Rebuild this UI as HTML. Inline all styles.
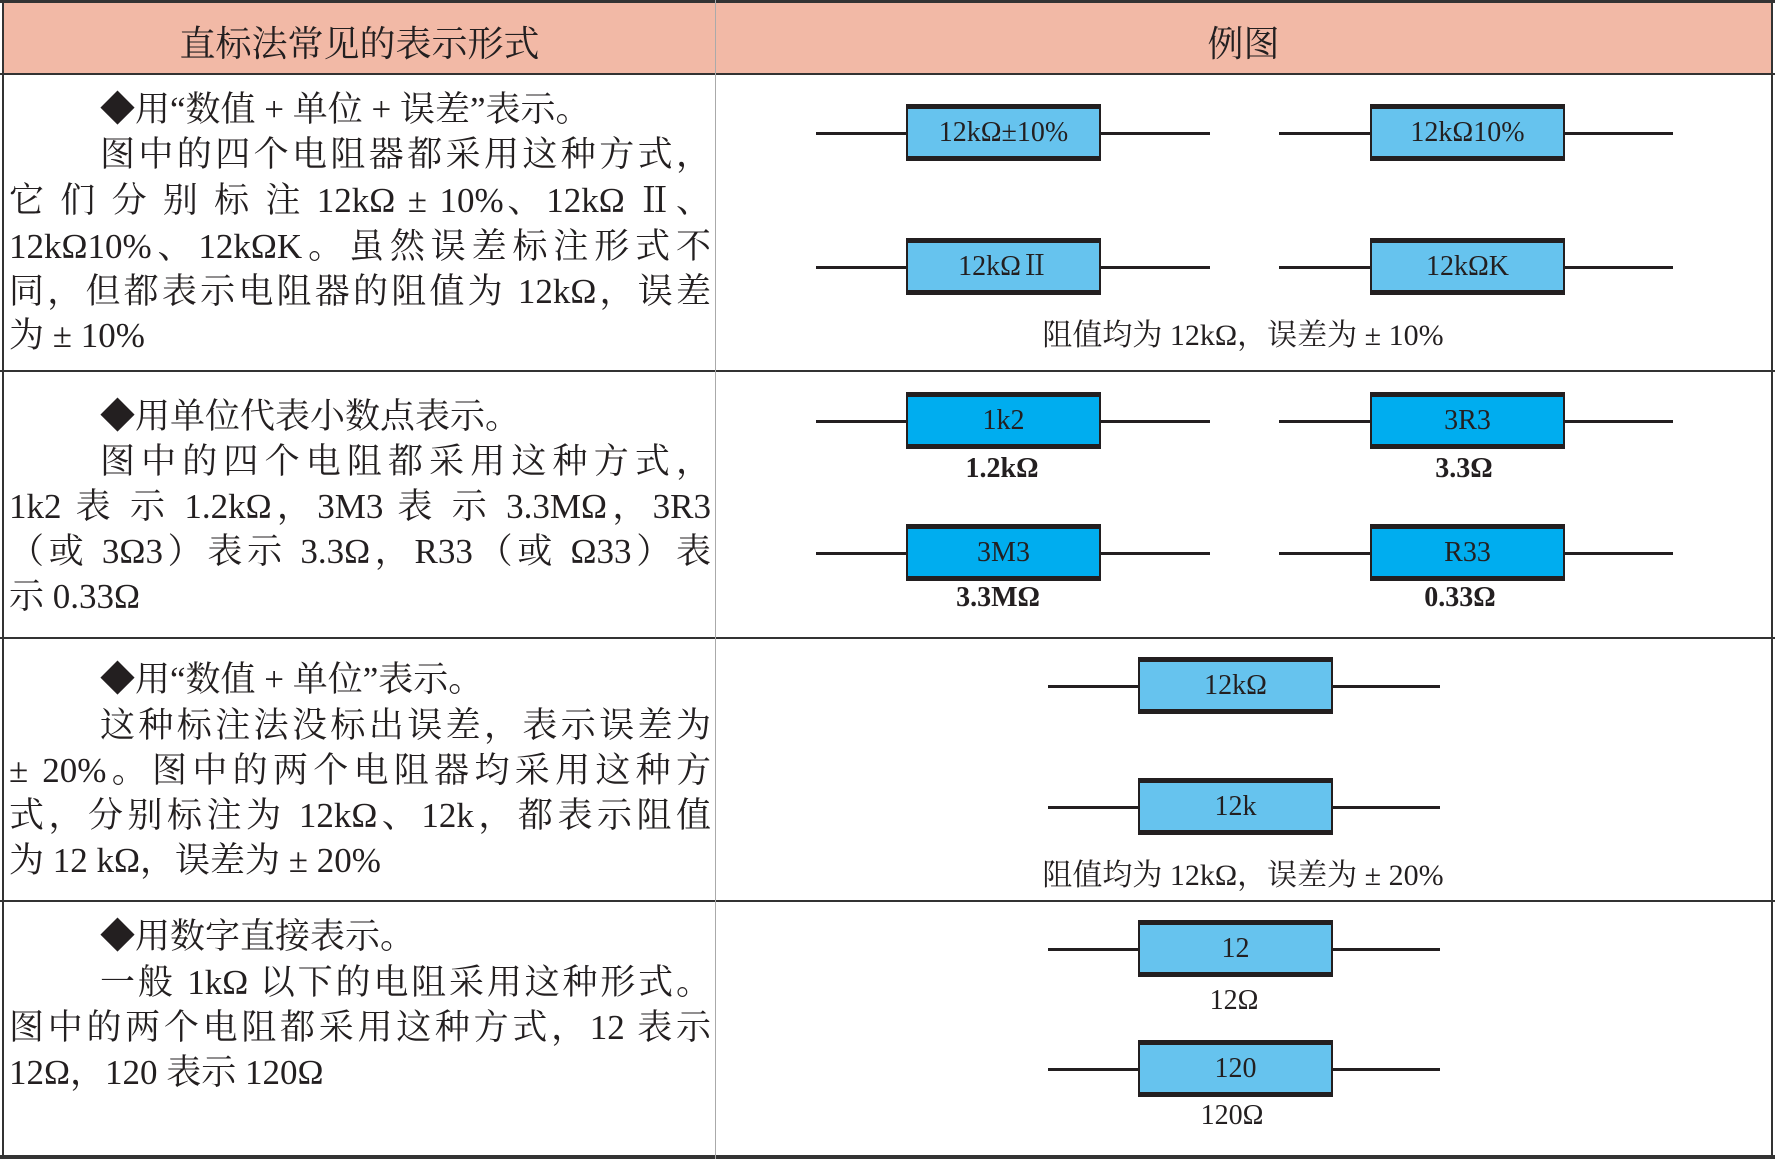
<!DOCTYPE html>
<html><head><meta charset="utf-8"><style>
body{margin:0;width:1775px;height:1159px;background:#fff;position:relative;overflow:hidden;font-family:"Liberation Serif","Noto Serif CJK SC",serif;color:#231f20}
.abs{position:absolute}
.hl{position:absolute;background:#333}
.ln{position:absolute;left:9px;width:702px;height:46px;line-height:46px;font-size:35px;white-space:nowrap;text-align:justify;text-align-last:justify}
.ln.i{left:100px;width:611px}
.ln.s{text-align-last:left}
.lead{position:absolute;height:3px;background:#231f20}
.box{position:absolute;width:191px;height:47px;border-left:2px solid #231f20;border-right:2px solid #231f20;border-top:5px solid #231f20;border-bottom:5px solid #231f20;background:#66c3ee;font-size:28px;text-align:center;line-height:47px}
.box.d{background:#00adef}
.lab{position:absolute;font-size:28px;text-align:center;width:200px;font-weight:bold}
.cap{position:absolute;font-size:30px;text-align:center;width:700px;left:893px}
</style></head><body>
<div class="abs" style="left:3px;top:3px;width:1768px;height:71px;background:#f2b9a6"></div>
<div class="hl" style="left:0;top:0;width:1775px;height:3px"></div>
<div class="hl" style="left:0;top:73px;width:1775px;height:2px"></div>
<div class="hl" style="left:0;top:370px;width:1775px;height:2px"></div>
<div class="hl" style="left:0;top:637px;width:1775px;height:2px"></div>
<div class="hl" style="left:0;top:900px;width:1775px;height:2px"></div>
<div class="hl" style="left:0;top:1155px;width:1775px;height:4px"></div>
<div class="hl" style="left:2px;top:0;width:2px;height:1159px"></div>
<div class="hl" style="left:1771px;top:0;width:2px;height:1159px"></div>
<div class="hl" style="left:715px;top:0;width:1px;height:1159px;background:#aaa"></div>

<div class="abs" style="left:4px;width:711px;top:16px;font-size:36px;text-align:center">直标法常见的表示形式</div>
<div class="abs" style="left:716px;width:1055px;top:16px;font-size:36px;text-align:center">例图</div>

<div>
<div class="ln i s" style="top:87px">◆用“数值 + 单位 + 误差”表示。</div>
<div class="ln i" style="top:132px">图中的四个电阻器都采用这种方式，</div>
<div class="ln" style="top:178px">它 们 分 别 标 注 12kΩ ± 10%、12kΩ Ⅱ、</div>
<div class="ln" style="top:224px">12kΩ10%、12kΩK。虽然误差标注形式不</div>
<div class="ln" style="top:269px">同，但都表示电阻器的阻值为 12kΩ，误差</div>
<div class="ln s" style="top:313px">为 ± 10%</div>
</div>
<div>
<div class="ln i s" style="top:394px">◆用单位代表小数点表示。</div>
<div class="ln i" style="top:439px">图中的四个电阻都采用这种方式，</div>
<div class="ln" style="top:484px">1k2 表 示 1.2kΩ，3M3 表 示 3.3MΩ，3R3</div>
<div class="ln" style="top:529px">（或 3Ω3）表示 3.3Ω，R33（或 Ω33）表</div>
<div class="ln s" style="top:574px">示 0.33Ω</div>
</div>
<div>
<div class="ln i s" style="top:657px">◆用“数值 + 单位”表示。</div>
<div class="ln i" style="top:703px">这种标注法没标出误差，表示误差为</div>
<div class="ln" style="top:748px">± 20%。图中的两个电阻器均采用这种方</div>
<div class="ln" style="top:793px">式，分别标注为 12kΩ、12k，都表示阻值</div>
<div class="ln s" style="top:838px">为 12 kΩ，误差为 ± 20%</div>
</div>
<div>
<div class="ln i s" style="top:914px">◆用数字直接表示。</div>
<div class="ln i" style="top:960px">一般 1kΩ 以下的电阻采用这种形式。</div>
<div class="ln" style="top:1005px">图中的两个电阻都采用这种方式，12 表示</div>
<div class="ln s" style="top:1050px">12Ω，120 表示 120Ω</div>
</div>

<div id="res"></div>
<div class="cap" style="top:310px">阻值均为 12kΩ，误差为 ± 10%</div>
<div class="cap" style="top:850px">阻值均为 12kΩ，误差为 ± 20%</div>
<div class="lab" style="left:902px;top:453px">1.2kΩ</div>
<div class="lab" style="left:1364px;top:453px">3.3Ω</div>
<div class="lab" style="left:898px;top:582px">3.3MΩ</div>
<div class="lab" style="left:1360px;top:582px">0.33Ω</div>
<div class="lab" style="left:1134px;top:985px;font-weight:normal">12Ω</div>
<div class="lab" style="left:1132px;top:1100px;font-weight:normal">120Ω</div>
<script>
const resistorLabels=["12kΩ±10%","12kΩ10%","12kΩⅡ","12kΩK","1k2","3R3","3M3","R33","12kΩ","12k","12","120"];
const cols={L:[816,906,1210],R:[1279,1370,1673],C:[1048,1138,1440]};
const place=[["L",104,0],["R",104,0],["L",238,0],["R",238,0],["L",392,1],["R",392,1],["L",524,1],["R",524,1],["C",657,0],["C",778,0],["C",920,0],["C",1040,0]];
const host=document.getElementById('res');
resistorLabels.forEach((t,i)=>{
  const [c,top,dark]=place[i];const [a,b,e]=cols[c];
  const l=document.createElement('div');l.className='lead';
  
  
  l.style.left=a+'px';l.style.width=(e-a)+'px';l.style.top=(top+28)+'px';host.appendChild(l);
  const bx=document.createElement('div');bx.className='box'+(dark?' d':'');
  
  
  bx.style.left=b+'px';bx.style.top=top+'px';bx.textContent=t;host.appendChild(bx);
});
</script>
</body></html>
